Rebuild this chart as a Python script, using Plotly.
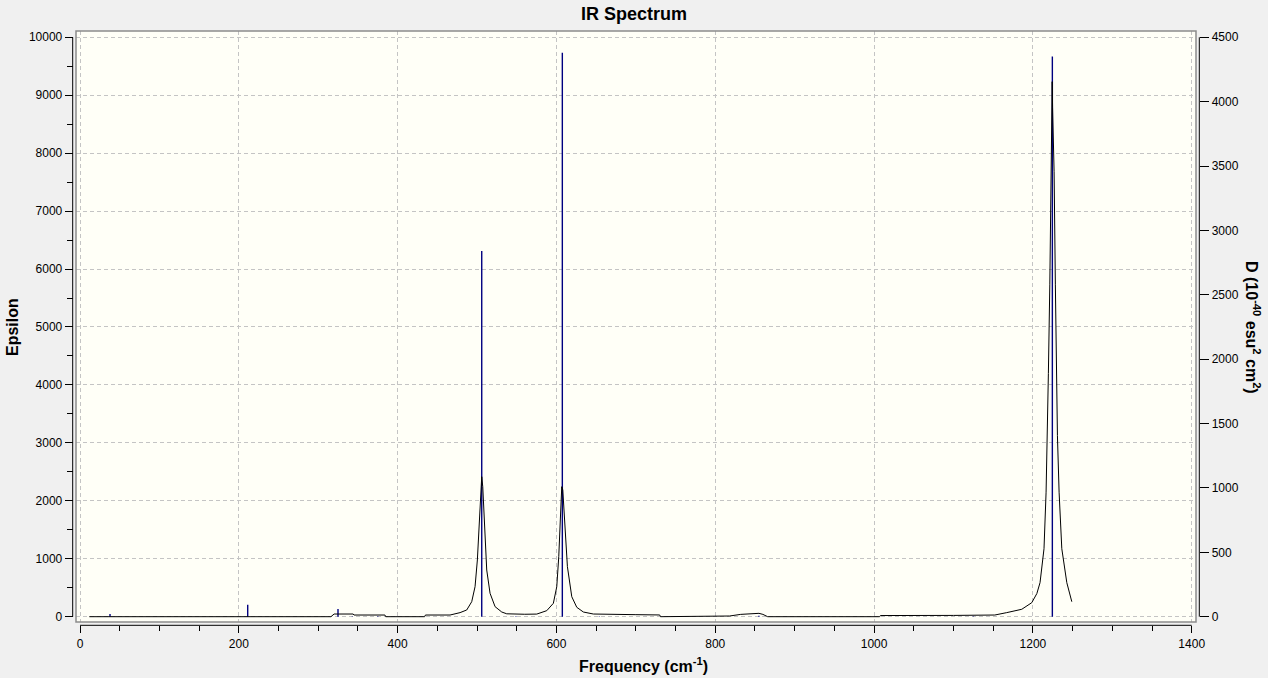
import plotly.graph_objects as go

W, H = 1268, 678

# ---- data ----
# stick spectrum (right axis, D in 1e-40 esu^2 cm^2)
stick_freq = [37.8, 211.2, 324.9, 343, 375, 505.9, 549, 607.4, 654, 855, 1125, 1224.5]
stick_D = [21, 93, 60, 3, 3, 2840, 3, 4380, 3, 8, 3, 4350]

# broadened curve (left axis, epsilon)
curve_freq = [11.7, 316, 320, 344, 345, 384, 385, 434, 435, 466, 478.6, 487, 493.3, 497.5,
              500.4, 502.9, 504.2, 505.9, 507.2, 508.4, 510.1, 512.2, 516.4, 522.7, 531.1,
              537.4, 560, 575.2, 587.8, 596.1, 600.4, 602.9, 605.4, 606.7, 608, 609.6, 611.3,
              613.8, 619.3, 625.6, 633.9, 646.5, 700, 730, 731, 818, 832, 846, 855, 860, 865,
              866, 1007, 1008, 1100, 1152, 1167, 1186, 1198.6, 1205, 1209, 1212, 1214, 1216.6,
              1218.3, 1219.5, 1221.3, 1222.5, 1223.6, 1224.3, 1224.8, 1226.7, 1228.3, 1230.1,
              1230.9, 1233, 1236.4, 1242.7, 1249]
curve_eps = [0, 0, 46, 46, 29, 29, 0, 0, 29, 29, 70, 116, 259, 518,
             979, 1612, 2071, 2416, 2244, 1841, 1267, 806, 404, 173, 81,
             50, 42, 45, 104, 231, 518, 1036, 1841, 2244, 2186, 1784, 1324,
             863, 345, 162, 81, 46, 35, 30, 0, 12, 40, 52, 58, 40, 12,
             0, 0, 20, 22, 29, 70, 128, 242, 400, 588, 979, 1173, 2149,
             3125, 4198, 5727, 7679, 8792, 9234, 8792, 7679, 5727, 4198,
             3125, 2149, 1173, 588, 259]

x_dtick, x_minor = 200, 50
eps_dtick, eps_minor = 1000, 500
D_dtick = 500
x_range = [-5.04, 1405.4]
eps_range = [-91.5, 10108.5]
D_range = [-41.2, 4548.8]

# ---- layout geometry (pixels) ----
fx0, fx1, fy_top, fy_bot = 76, 1196, 31, 622
left_axis_x, right_axis_x, bottom_axis_y = 72.7, 1199.3, 625.3


def px(x):
    return x / W


def py(y):
    return 1 - y / H


FONT = "Liberation Sans, Arial, sans-serif"

fig = go.Figure()

# sticks on the D axis
sx, sy = [], []
for f, d in zip(stick_freq, stick_D):
    sx += [f, f, None]
    sy += [0, d, None]
fig.add_trace(go.Scatter(x=sx, y=sy, mode="lines", yaxis="y",
                         line=dict(color="#000080", width=1.4),
                         hoverinfo="skip", showlegend=False))

# curve on the epsilon axis (overlaying, drawn on top)
fig.add_trace(go.Scatter(x=curve_freq, y=curve_eps, mode="lines", yaxis="y2",
                         line=dict(color="black", width=1),
                         showlegend=False))

grid = dict(showgrid=True, gridcolor="#c4c4c4", gridwidth=1, griddash="4px,3px")
tickf = dict(family=FONT, size=12, color="black")

fig.update_layout(
    width=W, height=H,
    margin=dict(l=0, r=0, t=0, b=0, autoexpand=False),
    paper_bgcolor="#F0F0F0",
    plot_bgcolor="#FFFFF7",
    showlegend=False,
    title=dict(text="<b>IR Spectrum</b>", x=0.5, xref="paper", xanchor="center",
               y=py(14), yref="paper", yanchor="middle",
               font=dict(family=FONT, size=18, color="black")),
    xaxis=dict(domain=[px(fx0), px(fx1)], range=x_range, anchor="free",
               position=py(bottom_axis_y), tick0=0, dtick=x_dtick, tickformat="d",
               ticks="outside", ticklen=7, tickcolor="black", tickwidth=1,
               showline=False, zeroline=False, tickfont=tickf,
               minor=dict(dtick=x_minor, ticks="outside", ticklen=5,
                          tickcolor="black", showgrid=False),
               **grid),
    yaxis=dict(domain=[py(fy_bot), py(fy_top)], range=D_range, anchor="free",
               position=px(right_axis_x), side="right", tick0=0, dtick=D_dtick,
               tickformat="d",
               ticks="outside", ticklen=9, tickcolor="black", tickwidth=1,
               showline=False, zeroline=False, showgrid=False, tickfont=tickf),
    yaxis2=dict(range=eps_range, overlaying="y", anchor="free",
                position=px(left_axis_x), side="left", tick0=0, dtick=eps_dtick,
                tickformat="d",
                ticks="outside", ticklen=8, tickcolor="black", tickwidth=1,
                showline=False, zeroline=False, tickfont=tickf,
                minor=dict(dtick=eps_minor, ticks="outside", ticklen=6,
                           tickcolor="black", showgrid=False),
                **grid),
)

# frame around the plotting area
fig.add_shape(type="rect", xref="paper", yref="paper",
              x0=px(fx0), x1=px(fx1), y0=py(fy_bot), y1=py(fy_top),
              line=dict(color="#8c8c8c", width=1.5), layer="above")

# axis lines spanning only the tick range
fig.add_shape(type="line", xref="paper", yref="y2",
              x0=px(left_axis_x), x1=px(left_axis_x), y0=0, y1=10000,
              line=dict(color="black", width=1))
fig.add_shape(type="line", xref="paper", yref="y",
              x0=px(right_axis_x), x1=px(right_axis_x), y0=0, y1=4500,
              line=dict(color="black", width=1))
fig.add_shape(type="line", xref="x", yref="paper",
              x0=0, x1=1400, y0=py(bottom_axis_y), y1=py(bottom_axis_y),
              line=dict(color="black", width=1))

# axis titles
titlef = dict(family=FONT, size=16, color="black")
fig.add_annotation(text="<b>Frequency (cm<sup>-1</sup>)</b>", xref="paper", yref="paper",
                   x=px(643), y=py(665), xanchor="center", yanchor="middle",
                   showarrow=False, font=titlef)
fig.add_annotation(text="<b>Epsilon</b>", xref="paper", yref="paper",
                   x=px(12), y=py(327), xanchor="center", yanchor="middle",
                   textangle=-90, showarrow=False, font=titlef)
fig.add_annotation(text="<b>D (10<sup>-40</sup> esu<sup>2</sup> cm<sup>2</sup>)</b>",
                   xref="paper", yref="paper",
                   x=px(1253), y=py(327), xanchor="center", yanchor="middle",
                   textangle=90, showarrow=False, font=titlef)

fig.write_html("out.html",
               config={"displayModeBar": False},
               post_script="document.body.style.margin='0';"
                           "document.body.style.overflow='hidden';")
